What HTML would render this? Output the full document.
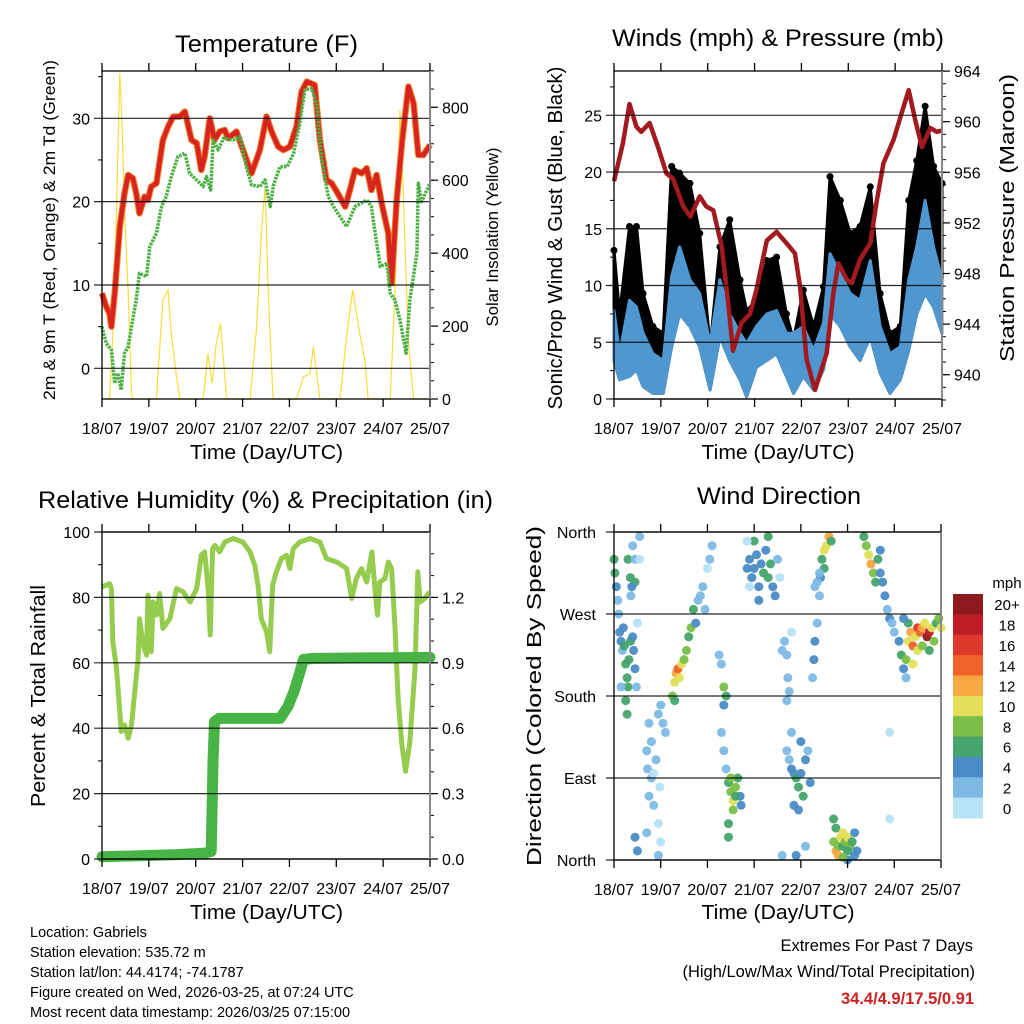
<!DOCTYPE html>
<html><head><meta charset="utf-8">
<style>
html,body{margin:0;padding:0;background:#fff;}
svg{display:block;font-family:"Liberation Sans",sans-serif;}
</style></head>
<body>
<svg id="chart" width="1024" height="1024" viewBox="0 0 1024 1024" xmlns="http://www.w3.org/2000/svg">
<rect x="0" y="0" width="1024" height="1024" fill="#fff"/>
<g font-size="24" text-anchor="middle" fill="#000">
<text x="266.5" y="52" textLength="183" lengthAdjust="spacingAndGlyphs">Temperature (F)</text>
<text x="778" y="46" textLength="332" lengthAdjust="spacingAndGlyphs">Winds (mph) &amp; Pressure (mb)</text>
<text x="265.5" y="508" textLength="455" lengthAdjust="spacingAndGlyphs">Relative Humidity (%) &amp; Precipitation (in)</text>
<text x="779" y="504" textLength="164" lengthAdjust="spacingAndGlyphs">Wind Direction</text>
</g>
<g font-size="20" text-anchor="middle">
<text x="266.5" y="459" textLength="153" lengthAdjust="spacingAndGlyphs">Time (Day/UTC)</text>
<text x="778" y="459" textLength="153" lengthAdjust="spacingAndGlyphs">Time (Day/UTC)</text>
<text x="266.5" y="919" textLength="153" lengthAdjust="spacingAndGlyphs">Time (Day/UTC)</text>
<text x="778" y="919" textLength="153" lengthAdjust="spacingAndGlyphs">Time (Day/UTC)</text>
<text transform="translate(55,230) rotate(-90)" font-size="17" textLength="340" lengthAdjust="spacingAndGlyphs">2m &amp; 9m T (Red, Orange) &amp; 2m Td (Green)</text>
<text transform="translate(498,237) rotate(-90)" font-size="17" textLength="179" lengthAdjust="spacingAndGlyphs">Solar Insolation (Yellow)</text>
<text transform="translate(562,238) rotate(-90)" textLength="343" lengthAdjust="spacingAndGlyphs">Sonic/Prop Wind &amp; Gust (Blue, Black)</text>
<text transform="translate(1014,218) rotate(-90)" textLength="288" lengthAdjust="spacingAndGlyphs">Station Pressure (Maroon)</text>
<text transform="translate(45,696) rotate(-90)" textLength="222" lengthAdjust="spacingAndGlyphs">Percent &amp; Total Rainfall</text>
<text transform="translate(541,696) rotate(-90)" textLength="340" lengthAdjust="spacingAndGlyphs">Direction (Colored By Speed)</text>
</g>
<g font-size="14.5">
<text x="30" y="937">Location: Gabriels</text>
<text x="30" y="957">Station elevation: 535.72 m</text>
<text x="30" y="977">Station lat/lon: 44.4174; -74.1787</text>
<text x="30" y="997">Figure created on Wed, 2026-03-25, at 07:24 UTC</text>
<text x="30" y="1017">Most recent data timestamp: 2026/03/25 07:15:00</text>
</g>
<g font-size="16.5" text-anchor="end">
<text x="973" y="951">Extremes For Past 7 Days</text>
<text x="975" y="977">(High/Low/Max Wind/Total Precipitation)</text>
<text x="974" y="1004" fill="#cc2222" font-weight="bold">34.4/4.9/17.5/0.91</text>
</g>
</svg>
<script>
// ---------- DATA ----------
const dayLabels=['18/07','19/07','20/07','21/07','22/07','23/07','24/07','25/07'];
const tempTime=[0,0.09,0.16,0.2,0.27,0.38,0.48,0.56,0.66,0.73,0.8,0.91,0.98,1.05,1.16,1.3,1.41,1.52,1.66,1.77,1.91,2.02,2.12,2.19,2.3,2.4,2.51,2.62,2.69,2.87,3.01,3.19,3.37,3.51,3.62,3.76,3.87,4.01,4.15,4.26,4.37,4.54,4.65,4.79,4.9,5.01,5.19,5.29,5.4,5.54,5.65,5.75,5.86,5.97,6.11,6.18,6.29,6.4,6.54,6.65,6.75,6.86,7];
const tempRed=[9,7.4,6.6,5,9,17,21,23.2,22.8,21,18.6,20.6,20.2,21.8,22.2,27.4,29,30.2,30.2,30.8,27.4,27,23.8,25.4,30,27.4,28.4,28.6,27.6,28.4,26.2,23.4,26.2,30.2,28.4,26.6,26.2,26.6,29,33.2,34.4,34,27.4,22.6,22.2,21.2,19.4,21.4,23.8,23.4,24,21.4,23.2,19.8,16.2,10.2,20.2,27,33.8,31.8,25.6,25.6,26.8];
const tdTime=[0,0.09,0.2,0.27,0.34,0.41,0.48,0.56,0.63,0.73,0.8,0.95,1.02,1.16,1.27,1.37,1.48,1.62,1.77,1.87,2.02,2.16,2.23,2.32,2.37,2.48,2.59,2.8,2.94,3.08,3.19,3.37,3.48,3.59,3.66,3.8,3.95,4.09,4.22,4.33,4.47,4.58,4.69,4.83,4.94,5.22,5.4,5.65,5.75,5.82,5.94,6.08,6.15,6.25,6.36,6.49,6.57,6.72,6.75,6.82,7];
const tdGreen=[5,3,2.2,-1.8,-0.6,-2.6,1.8,2.6,5,8.2,11.4,11,14.6,16.2,19.4,20.6,23,25.4,25.8,23.4,22.6,21.8,23,21.4,27.4,26.2,27.6,27.4,27.8,24.2,22,21.8,22.6,19.4,22,24.2,24.2,25.8,29.4,33.4,33.6,31.8,25,20.6,19.4,17,19.4,20.2,19.4,16.6,12.2,12.6,9,8.2,5.8,1.8,8.2,13.8,22.2,20,22.2];
const solarTime=[0,0.16,0.24,0.31,0.38,0.43,0.48,0.56,0.63,0.66,1.16,1.3,1.41,1.48,1.59,1.66,2.16,2.26,2.35,2.44,2.53,2.66,3.16,3.3,3.4,3.48,3.55,3.65,4.15,4.3,4.44,4.51,4.65,5.08,5.22,5.35,5.5,5.61,5.68,6.15,6.25,6.36,6.43,6.54,6.65,7];
const solarVals=[0,0,198,518,893,747,518,290,15,0,0,271,299,180,61,0,0,125,43,153,207,0,0,198,454,582,290,0,0,61,70,143,0,0,171,299,180,107,0,0,290,792,564,153,0,0];
const windTime=[0,0.12,0.33,0.48,0.62,0.83,1.05,1.23,1.4,1.62,1.83,2.05,2.26,2.47,2.69,2.83,3.04,3.26,3.47,3.68,3.83,4.04,4.26,4.47,4.61,4.83,5.04,5.25,5.47,5.68,5.89,6.11,6.29,6.46,6.64,6.82,7];
const windLo=[3.4,1.7,2,2.6,1.1,0.5,0.5,4.6,7.5,6.4,4.6,0.8,5.5,3.4,1.7,0.2,2.8,3.4,4,2,0.5,2,0.8,2.6,7.5,6.4,4.6,3.4,5.5,2.3,0.5,1.7,4.3,7.5,9.3,8.1,5.8];
const windHi=[7.8,4,8.7,8.1,5.8,4,3.4,10.8,13.4,10.5,9.3,4.9,10.5,7.5,5.8,4.9,6.4,7.5,7.8,5.8,5.8,6.4,4.3,6.7,12.8,11.1,9.3,8.7,12.2,6.4,4,4.6,10.5,13.4,17.5,13.4,10.5];
const gustHi=[13.1,7.5,15.2,15.2,9.3,6.4,5.8,20.5,19.9,19,14.6,4.6,13.4,15.8,10.5,7.8,8.7,12.2,12.5,7.5,5.2,9.6,6.4,9.9,19.6,17.5,14.6,15.2,18.7,9.3,5.8,6.4,17.5,21,25.8,20.5,19];
const presTime=[0,0.19,0.33,0.48,0.58,0.76,0.94,1.12,1.26,1.48,1.63,1.83,1.97,2.12,2.3,2.44,2.54,2.72,2.9,3.04,3.26,3.47,3.68,3.86,3.97,4.11,4.29,4.54,4.68,4.79,4.97,5.07,5.25,5.47,5.61,5.75,5.97,6.14,6.29,6.43,6.57,6.75,6.89,7];
const presVals=[955.3,958.3,961.4,959.6,959.2,959.9,958,955.9,955.5,953.3,952.5,954.1,953.3,953,950.1,945.6,941.9,944.1,944.8,946.7,950.6,951.3,950.4,949.6,947,941.2,938.8,941.7,946.4,948.8,947.5,947.2,949.1,950.4,953.8,956.7,958.6,960.7,962.5,960.1,958,959.5,959.2,959.3];
const rhTime=[0,0.16,0.2,0.23,0.31,0.38,0.41,0.48,0.56,0.63,0.7,0.77,0.8,0.88,0.95,0.98,1.05,1.09,1.16,1.23,1.3,1.45,1.59,1.73,1.88,2.02,2.12,2.19,2.27,2.31,2.36,2.41,2.51,2.62,2.8,3.01,3.16,3.26,3.33,3.4,3.51,3.58,3.64,3.72,3.83,3.94,4.01,4.08,4.22,4.44,4.65,4.79,5.01,5.22,5.33,5.43,5.54,5.65,5.76,5.83,5.88,5.93,6.04,6.11,6.18,6.25,6.32,6.4,6.48,6.57,6.68,6.74,6.79,6.89,6.99];
const rhVals=[83.2,84.2,82.7,66.4,58.3,45,39,41,36.9,41,51.2,61.3,73.5,65.4,62.4,80.7,63.4,78.6,74.6,81.2,70.5,73.5,82.7,81.7,78.6,82.7,92.9,93.9,81.7,68.5,94.9,95.9,93.9,96.9,98,96.9,93.9,89.8,83.7,73.5,69.5,63.4,83.7,87.8,91.9,92.9,88.8,94.9,96.9,98,96.9,91.9,90.8,88.8,79.7,85.8,88.8,84.7,93.9,81.7,74.6,84.7,85.8,90.8,88.8,71.5,49.1,34.9,26.8,35.9,58.3,87.8,78.6,79.7,81.7];
const rainTime=[0,1.6,2.2,2.33,2.37,2.4,2.5,3.8,3.97,4.1,4.2,4.3,4.5,7];
const rainVals=[0.01,0.02,0.027,0.035,0.46,0.63,0.645,0.645,0.7,0.77,0.84,0.915,0.92,0.925];
const dirDay=[0,0.02,0.05,0.08,0.1,0.12,0.15,0.18,0.2,0.22,0.25,0.28,0.3,0.32,0.35,0.4,0.42,0.45,0.48,0.5,0.36,0.3,0.35,0.4,0.45,0.55,0.55,0.25,0.28,0.15,0.45,0.38,
0.75,0.8,0.7,0.72,0.8,0.85,0.9,0.95,1.0,1.05,1.1,0.75,0.85,0.95,0.98,1.0,0.7,0.45,0.5,0.95,
1.25,1.3,1.33,1.37,1.4,1.45,1.5,1.55,1.6,1.65,1.7,1.75,1.8,1.85,1.9,2.0,2.05,2.1,1.95,1.3,
2.25,2.3,2.35,2.4,2.35,2.3,2.35,2.4,2.45,2.5,2.55,2.6,2.65,2.7,2.72,2.5,2.45,2.45,2.55,2.6,
2.85,2.9,2.95,3.0,3.05,3.1,3.15,3.2,3.25,3.3,3.35,3.4,3.45,3.5,3.55,3.0,3.3,3.1,2.9,2.85,
3.65,3.7,3.72,3.75,3.8,3.6,3.7,
3.7,3.75,3.8,3.85,3.9,3.95,4.0,4.05,4.1,4.15,4.2,3.85,3.95,4.0,3.8,
4.25,4.28,4.3,4.35,4.4,4.42,4.45,4.5,4.55,4.6,4.65,4.5,4.4,4.35,
4.7,4.75,4.8,4.85,4.9,4.95,5.0,5.05,5.1,5.15,5.2,4.75,4.7,4.9,5.0,4.8,5.15,
5.35,5.4,5.45,5.5,5.55,5.6,5.65,5.7,5.75,5.8,5.85,5.9,5.95,6.0,5.7,
6.1,6.15,6.2,6.25,6.3,6.35,6.4,6.45,6.5,6.55,6.6,6.65,6.7,6.75,6.8,6.85,6.9,6.95,7.0,6.3,6.25,6.5,6.6,6.75,6.4,6.2,
5.9,5.9,4.3,4.1,3.9,3.6,5.0,4.9];
const dirDeg=[330,315,300,285,270,250,240,230,255,235,215,200,190,220,240,245,230,210,190,260,290,330,310,345,330,355,330,175,160,190,305,300,
150,130,120,100,90,95,110,160,170,150,140,70,60,40,80,20,30,25,10,5,
180,195,205,210,200,215,220,230,245,255,275,260,285,290,300,320,330,345,275,175,
225,215,190,180,170,140,120,100,85,75,65,80,90,70,60,90,40,25,55,70,
320,330,310,320,335,300,325,315,340,310,325,300,290,330,310,350,355,285,300,350,
240,225,200,185,250,230,175,
120,110,100,95,90,80,95,70,110,120,85,60,55,130,140,
200,220,240,260,290,310,330,340,345,355,350,320,315,305,
20,10,15,25,15,20,25,15,20,30,10,35,45,30,10,5,5,
355,345,335,325,315,305,330,315,305,290,275,265,260,250,340,
240,225,210,220,240,250,235,245,255,250,255,260,245,250,255,240,260,265,255,260,200,230,235,230,215,265,
140,45,300,15,5,5,0,3];
const dirSpeed=[6,7,4,3,3,4,4,3,5,6,7,6,7,6,7,5,4,4,3,1,2,6,7,3,2,2,1,7,6,3,7,5,
3,2,2,2,2,1,2,3,3,2,2,3,2,1,1,1,2,4,4,2,
8,10,12,14,11,10,9,8,7,8,6,5,3,2,2,1,2,2,3,7,
2,2,8,6,4,3,2,3,7,9,10,8,6,4,4,8,7,6,9,6,
4,5,4,5,4,4,4,6,5,6,7,5,4,2,1,6,6,4,1,1,
2,2,2,2,1,2,2,
2,3,4,5,6,7,4,6,4,3,4,4,5,4,2,
3,5,4,2,3,4,7,10,11,12,6,6,3,2,
9,12,8,10,6,9,10,8,6,4,5,6,6,10,7,12,5,
6,8,11,12,9,7,6,5,4,4,3,4,3,2,4,
5,6,4,8,10,12,14,10,16,14,12,10,20,18,11,8,7,9,10,6,3,10,8,7,11,5,
1,1,2,2,4,3,5,8];
const speedBins=['0','2','4','6','8','10','12','14','16','18','20+'];
const speedColors=['#b5e2f7','#7db9e4','#4a8cc6','#46a46c','#7bbf48','#e3df58','#f5a742','#ef6229','#dd3a2b','#bd1e25','#8f1a1d'];

// ---------- HELPERS ----------
const NS='http://www.w3.org/2000/svg';
const svg=document.getElementById('chart');
function mk(tag,attrs,parent){const e=document.createElementNS(NS,tag);for(const k in attrs)e.setAttribute(k,attrs[k]);(parent||svg).appendChild(e);return e;}
function grp(name){const g=mk('g',{});


return g;}
const P1={x0:102,x1:430,y0:71,y1:399};
const P2={x0:614,x1:942,y0:71,y1:399};
const P3={x0:102,x1:430,y0:532,y1:859};
const P4={x0:614,x1:941,y0:532,y1:860};
function sx(p,d){return p.x0+d/7*(p.x1-p.x0);}
function lin(v0,y0,v1,y1){return v=>y0+(v-v0)*(y1-y0)/(v1-v0);}
const yTemp=lin(0,368.3,30,118.3);
const ySolar=lin(0,399,800,107.3);
const yWind=lin(0,399,25,115.3);
const yPres=lin(940,374.7,960,121.7);
const yRH=lin(0,859,100,532);
const yRain=lin(0,859,1.5,532);
const yDir=lin(0,860,360,532);
function pathD(p,ts,vs,fy){return ts.map((t,i)=>(i?'L':'M')+sx(p,t).toFixed(1)+' '+fy(vs[i]).toFixed(1)).join(' ');}

function frame(p,name){
  const g=grp(name+'-axes');
  dayLabels.forEach((lab,i)=>{
    const x=sx(p,i);
    mk('line',{x1:x,y1:p.y1,x2:x,y2:p.y1+8,stroke:'#000','stroke-width':1.3},g);
    mk('line',{x1:x,y1:p.y0,x2:x,y2:p.y0-8,stroke:'#000','stroke-width':1.3},g);
    const t=mk('text',{x:x,y:p.y1+35,'font-size':16,'text-anchor':'middle'},g);
    t.textContent=lab;
    
    
  });
  return g;
}
function hgrid(p,g,vals,fy,labels,lx){
  vals.forEach((v,i)=>{
    const y=fy(v);
    mk('line',{x1:p.x0-8,y1:y,x2:p.x1,y2:y,stroke:'#000','stroke-width':1.2,'stroke-opacity':0.85},g);
    if(labels){const t=mk('text',{x:lx,y:y+6,'font-size':16,'text-anchor':'end'},g);
    t.textContent=labels[i];
    
    }
  });
}
function minorL(p,g,vals,fy){vals.forEach(v=>{const y=fy(v);if(y>=p.y0&&y<=p.y1)mk('line',{x1:p.x0-4,y1:y,x2:p.x0,y2:y,stroke:'#000'},g);});}
function rightAxis(p,g,major,minor,fy,labels){
  minor.forEach(v=>{const y=fy(v);if(y>=p.y0-1&&y<=p.y1+1)mk('line',{x1:p.x1,y1:y,x2:p.x1+4,y2:y,stroke:'#000'},g);});
  major.forEach((v,i)=>{const y=fy(v);mk('line',{x1:p.x1,y1:y,x2:p.x1+8,y2:y,stroke:'#000','stroke-width':1.2},g);
    const t=mk('text',{x:p.x1+12,y:y+6,'font-size':16},g);
    t.textContent=labels[i];
    
    });
}
function border(p,g){mk('rect',{x:p.x0,y:p.y0,width:p.x1-p.x0,height:p.y1-p.y0,fill:'none',stroke:'#000','stroke-width':1.3},g);
mk('line',{x1:p.x1,y1:p.y0,x2:p.x1,y2:p.y1,stroke:'#888','stroke-width':2},g);}

// ---------- PANEL 1: Temperature ----------
{
  const g=frame(P1,'temperature');
  hgrid(P1,g,[0,10,20,30],yTemp,['0','10','20','30'],90);
  minorL(P1,g,[5,15,25,35],yTemp);
  const mn=[];for(let v=0;v<=900;v+=50)mn.push(v);
  rightAxis(P1,g,[0,200,400,600,800],mn,ySolar,['0','200','400','600','800']);
  const s=mk('path',{d:pathD(P1,solarTime,solarVals,ySolar),fill:'none',stroke:'#f7dc3c','stroke-width':1.2});
  
  
  const o=mk('path',{d:pathD(P1,tempTime,tempRed,yTemp),fill:'none',stroke:'#f07b24','stroke-width':6.5,'stroke-linejoin':'round'});
  
  
  const r=mk('path',{d:pathD(P1,tempTime,tempRed,yTemp),fill:'none',stroke:'#d8241f','stroke-width':4.5,'stroke-linejoin':'round'});
  
  
  const gr=mk('path',{d:pathD(P1,tdTime,tdGreen,yTemp),fill:'none',stroke:'#4bb043','stroke-width':3.5,'stroke-dasharray':'2.5 1','stroke-linejoin':'round'});
  
  
  border(P1,g); svg.appendChild(g);
}
// ---------- PANEL 2: Winds ----------
{
  const g=frame(P2,'winds');
  hgrid(P2,g,[0,5,10,15,20,25],yWind,['0','5','10','15','20','25'],602);
  minorL(P2,g,[2.5,7.5,12.5,17.5,22.5,27.5],yWind);
  const mn=[];for(let v=938;v<=964;v+=1)mn.push(v);
  rightAxis(P2,g,[940,944,948,952,956,960,964],mn,yPres,['940','944','948','952','956','960','964']);
  let d=pathD(P2,windTime,gustHi,yWind);
  for(let i=windTime.length-1;i>=0;i--)d+=' L'+sx(P2,windTime[i]).toFixed(1)+' '+yWind(windLo[i]).toFixed(1);
  const bk=mk('path',{d:d+'Z',fill:'#000',stroke:'#000','stroke-width':3,'stroke-linejoin':'round'});
  
  
  windTime.forEach((t,i)=>{const c=mk('circle',{cx:sx(P2,t),cy:yWind(gustHi[i]),r:3.5,fill:'#000'});
    
    });
  let d2=pathD(P2,windTime,windHi,yWind);
  for(let i=windTime.length-1;i>=0;i--)d2+=' L'+sx(P2,windTime[i]).toFixed(1)+' '+yWind(windLo[i]).toFixed(1);
  const bl=mk('path',{d:d2+'Z',fill:'#4f97d1',stroke:'#4f97d1','stroke-width':3,'stroke-linejoin':'round'});
  
  
  const pr=mk('path',{d:pathD(P2,presTime,presVals,yPres),fill:'none',stroke:'#a2191f','stroke-width':4.5,'stroke-linejoin':'round'});
  
  
  border(P2,g); svg.appendChild(g);
}
// ---------- PANEL 3: RH & Precip ----------
{
  const g=frame(P3,'humidity');
  hgrid(P3,g,[0,20,40,60,80,100],yRH,['0','20','40','60','80','100'],90);
  minorL(P3,g,[10,30,50,70,90],yRH);
  const mn=[];for(let v=0;v<=1.5;v+=0.1)mn.push(v);
  rightAxis(P3,g,[0,0.3,0.6,0.9,1.2],mn,yRain,['0.0','0.3','0.6','0.9','1.2']);
  const rh=mk('path',{d:pathD(P3,rhTime,rhVals,yRH),fill:'none',stroke:'#95cc4e','stroke-width':5,'stroke-linejoin':'round'});
  
  
  const rn=mk('path',{d:pathD(P3,rainTime,rainVals,yRain),fill:'none',stroke:'#49b446','stroke-width':11,'stroke-linejoin':'round','stroke-linecap':'round'});
  
  
  border(P3,g); svg.appendChild(g);
}
// ---------- PANEL 4: Wind Direction ----------
{
  const g=frame(P4,'direction');
  hgrid(P4,g,[0,90,180,270,360],yDir,['North','East','South','West','North'],596);
  dirDay.forEach((d,i)=>{
    const bin=Math.min(10,Math.floor(dirSpeed[i]/2));
    const c=mk('circle',{cx:sx(P4,d).toFixed(1),cy:yDir(dirDeg[i]).toFixed(1),r:4.5,fill:speedColors[bin],'fill-opacity':0.95});
    
    
  });
  border(P4,g); svg.appendChild(g);
  const lg=grp('speed-colorbar');
  const top=594,h=224/11;
  for(let i=0;i<11;i++){
    const k=10-i;
    const r=mk('rect',{x:953,y:top+i*h,width:30,height:h+0.5,fill:speedColors[k]},lg);
    
    
    const t=mk('text',{x:1007,y:top+i*h+h/2+6,'font-size':15,'text-anchor':'middle'},lg);
    t.textContent=speedBins[k];
    
    
  }
  const u=mk('text',{x:1007,y:588,'font-size':15,'text-anchor':'middle'},lg);
  u.textContent='mph';
  
  
}
</script>
</body></html>
